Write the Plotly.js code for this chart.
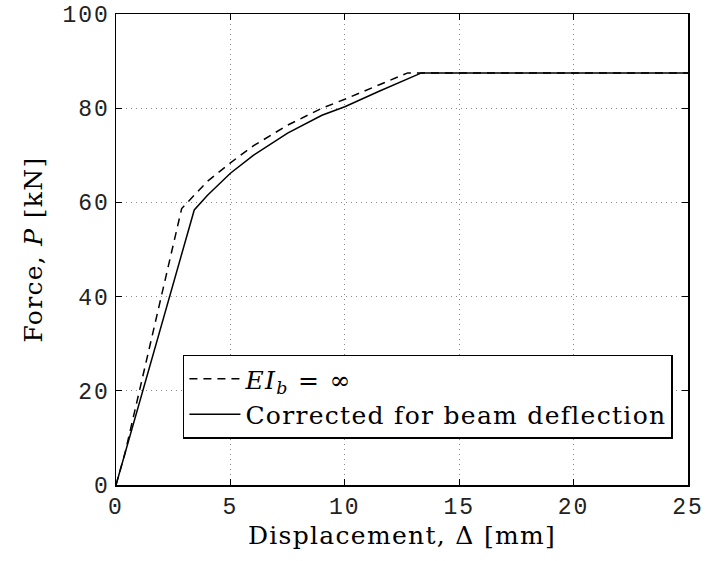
<!DOCTYPE html>
<html>
<head>
<meta charset="utf-8">
<script src="https://cdn.plot.ly/plotly-3.0.1.min.js"></script>
<style>
body{margin:0;padding:0;background:#fff;} #chart{width:707px;height:561px;}
.xtick text, .ytick text {letter-spacing: 2px;}
.g-xtitle text, .g-ytitle text, .legendtext {letter-spacing: 1.3px;}
</style>
</head>
<body>
<div id="chart"></div>
<script>
// Displacement (mm) and force (kN)
const rigidX = [0, 0.39, 2.87, 4.0, 5.0, 6.0, 7.5, 9.0, 10.0, 11.5, 12.75, 25];
const rigidY = [0, 6.7, 58.7, 64.5, 68.4, 72.0, 76.4, 80.0, 81.9, 85.0, 87.5, 87.5];
const corrX = [0, 0.39, 3.42, 4.0, 5.0, 6.0, 7.5, 9.0, 10.0, 11.5, 12.5, 13.35, 25];
const corrY = [0, 6.7, 58.4, 61.5, 66.2, 70.0, 74.7, 78.5, 80.3, 83.6, 85.8, 87.5, 87.5];
const seriesNames = ["<i>EI</i><sub><i>b</i></sub> = ∞", "Corrected for beam deflection"];
const xTicks = [0, 5, 10, 15, 20, 25];
const yTicks = [0, 20, 40, 60, 80, 100];

const tickFont = {family: "Liberation Mono", size: 23, color: "#222"};
const titleFont = {family: "DejaVu Serif", size: 25, color: "#000"};

const traces = [
  {x: rigidX, y: rigidY, mode: "lines", name: seriesNames[0],
   line: {color: "#000", width: 1.5, dash: "8px,6px"}},
  {x: corrX, y: corrY, mode: "lines", name: seriesNames[1],
   line: {color: "#000", width: 1.5}}
];

const axisCommon = {
  showline: true, linecolor: "#000", linewidth: 1.5, mirror: "ticks",
  ticks: "inside", ticklen: 6, tickcolor: "#000", tickwidth: 1,
  showgrid: true, gridcolor: "#8a8a8a", griddash: "1px,4px", gridwidth: 1,
  zeroline: false, tickfont: tickFont
};

const layout = {
  width: 707, height: 561,
  margin: {l: 116, r: 19, t: 14, b: 76},
  paper_bgcolor: "#fff", plot_bgcolor: "#fff",
  showlegend: true,
  xaxis: Object.assign({}, axisCommon, {
    range: [0, 25], tickvals: xTicks, ticktext: xTicks.map(String),
    title: {text: "Displacement, Δ [mm]", font: titleFont, standoff: 0}
  }),
  yaxis: Object.assign({}, axisCommon, {
    range: [0, 100], tickvals: yTicks, ticktext: yTicks.map(String),
    title: {text: "Force, <i>P</i> [kN]", font: titleFont, standoff: 12}
  }),
  legend: {
    x: 0.117, y: 0.277, xanchor: "left", yanchor: "top",
    bgcolor: "#fff", bordercolor: "#000", borderwidth: 1.5,
    font: {family: "DejaVu Serif", size: 25, color: "#000"},
    tracegroupgap: 0, itemwidth: 51
  }
};

Plotly.newPlot("chart", traces, layout, {displayModeBar: false, staticPlot: true});
</script>
</body>
</html>
